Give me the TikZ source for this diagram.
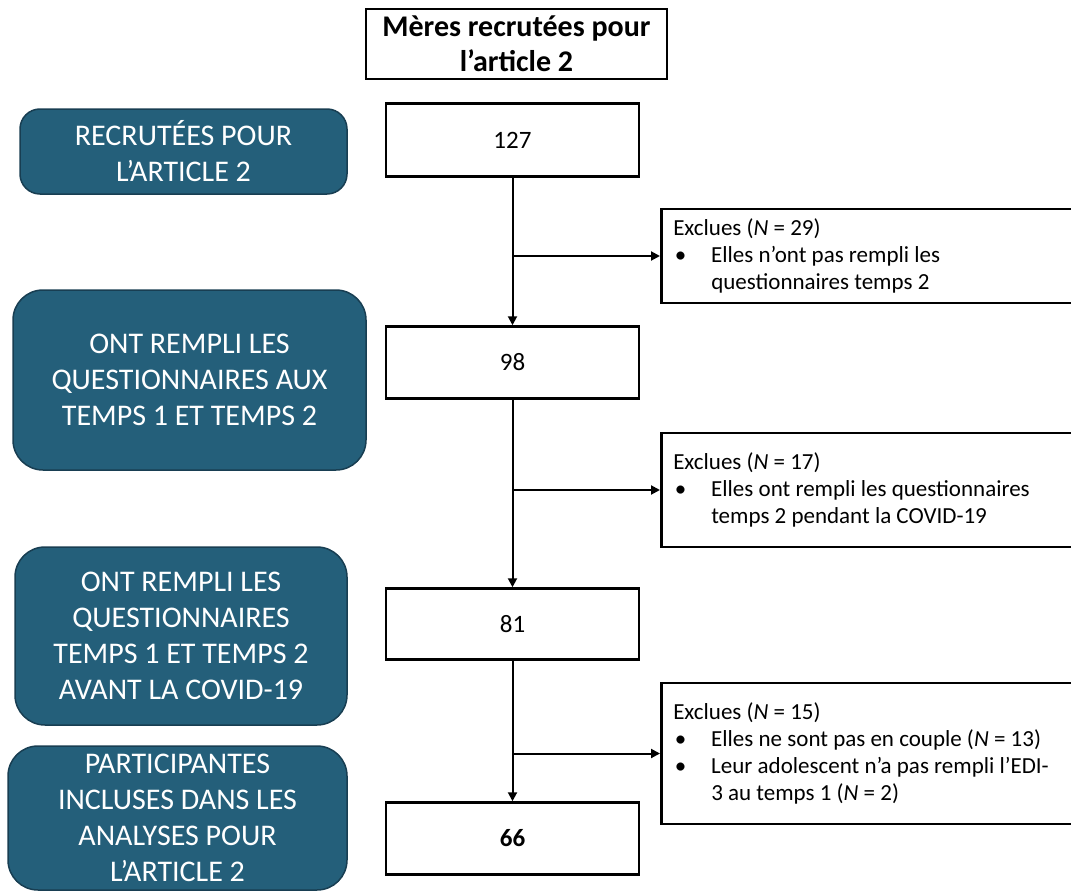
\documentclass[tikz,border=0pt]{standalone}
\usepackage{fontspec}
\setmainfont{Carlito}
\usetikzlibrary{arrows.meta}
\setlength{\parindent}{0pt}
\definecolor{bleu}{RGB}{36,95,122}
\definecolor{bleufonce}{RGB}{24,62,82}
\newcommand{\puce}[1]{\par\makebox[38pt][l]{\hspace{1.5pt}\textbullet}\parbox[t]{358pt}{\raggedright #1}}

\begin{document}
\begin{tikzpicture}[x=1pt,y=-1pt,
    etape/.style={draw,line width=2.5pt,minimum width=253pt,minimum height=72pt,font=\fontsize{25}{28}\selectfont},
    phase/.style={fill=bleu,draw=bleufonce,line width=1.5pt,text=white,align=center,inner sep=0pt,font=\fontsize{30}{36}\selectfont},
    exclu/.style={draw,line width=2.5pt,anchor=west,text width=396pt,inner xsep=12pt,inner ysep=0pt,align=flush left,font=\fontsize{23}{27}\selectfont},
    fleche/.style={line width=2pt,-{Triangle[length=9pt,width=9pt]}}]

\path[use as bounding box] (0,0) rectangle (1071,894);

\node[draw,line width=2pt,minimum width=301pt,minimum height=70pt,align=center,
      font=\bfseries\fontsize{30}{35}\selectfont] (titre) at (516.5,44) {Mères recrutées pour\\l’article 2};

% colonne des effectifs
\node[etape,minimum height=73pt] (n1) at (512.5,140) {127};
\node[etape] (n2) at (512.5,362.5) {98};
\node[etape,minimum height=71pt] (n3) at (512.5,624) {81};
\node[etape] (n4) at (512.5,838.5) {\textbf{66}};

% etapes a gauche
\node[phase,rounded corners=20pt,minimum width=327pt,minimum height=85pt] (p1) at (183.5,151.5) {RECRUTÉES POUR\\L’ARTICLE 2};
\node[phase,rounded corners=30pt,minimum width=353pt,minimum height=180pt] (p2) at (189.5,380) {ONT REMPLI LES\\QUESTIONNAIRES AUX\\TEMPS 1 ET TEMPS 2};
\node[phase,rounded corners=30pt,minimum width=332pt,minimum height=178pt] (p3) at (181,636) {ONT REMPLI LES\\QUESTIONNAIRES\\TEMPS 1 ET TEMPS 2\\AVANT LA COVID-19};
\node[phase,rounded corners=30pt,minimum width=339pt,minimum height=144pt] (p4) at (177.5,818) {PARTICIPANTES\\INCLUSES DANS LES\\ANALYSES POUR\\L’ARTICLE 2};

% exclusions
\node[exclu,minimum height=94pt] (x1) at (660,256) {Exclues (\textit{N} = 29)\puce{Elles n’ont pas rempli les\\questionnaires temps 2}};
\node[exclu,minimum height=114pt] (x2) at (660,490) {Exclues (\textit{N} = 17)\puce{Elles ont rempli les questionnaires\\temps 2 pendant la COVID-19}};
\node[exclu,minimum height=141pt] (x3) at (660,753.5) {Exclues (\textit{N} = 15)\puce{Elles ne sont pas en couple (\textit{N} = 13)}\puce{Leur adolescent n’a pas rempli l’EDI-\\3 au temps 1 (\textit{N} = 2)}};

\draw[fleche] (n1) -- (n2);
\draw[fleche] (n2) -- (n3);
\draw[fleche] (n3) -- (n4);
\draw[fleche] (n1 |- x1) -- (x1);
\draw[fleche] (n2 |- x2) -- (x2);
\draw[fleche] (n3 |- x3) -- (x3);

\end{tikzpicture}
\end{document}
